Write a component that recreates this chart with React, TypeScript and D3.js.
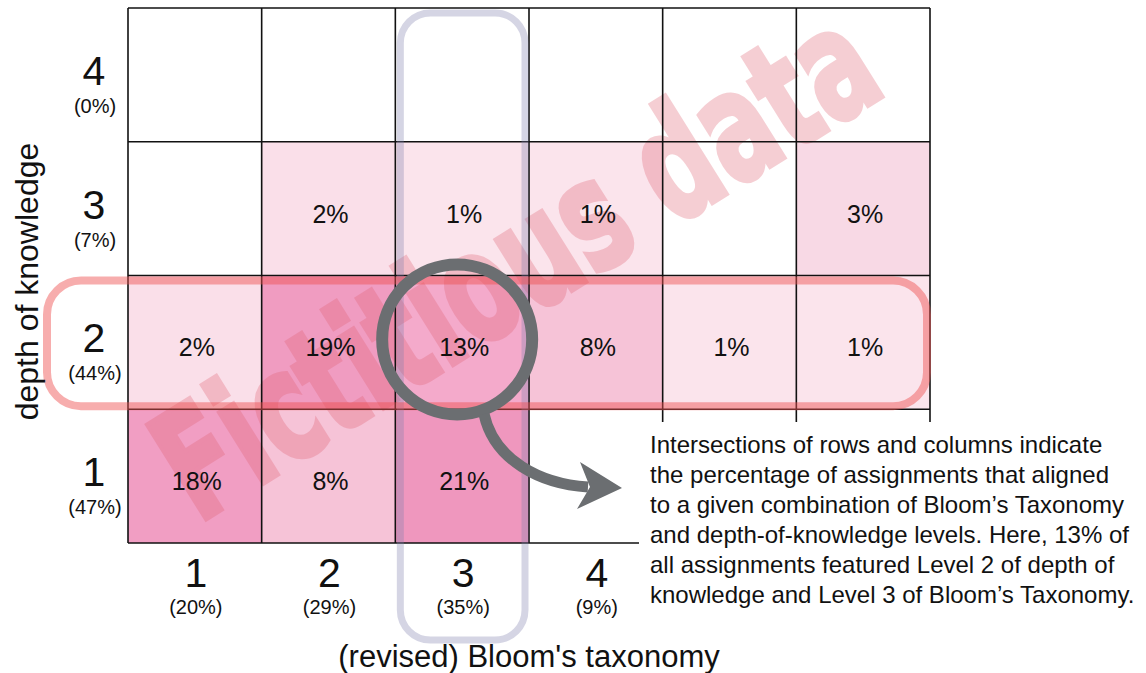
import React from "react";
import * as d3 from "d3";

// ---- data ----
const bloomLevels = ["1", "2", "3", "4", "5", "6"];
const bloomLabelled = ["1", "2", "3", "4"];
const bloomTotals = ["(20%)", "(29%)", "(35%)", "(9%)"];
const dokLevels = ["4", "3", "2", "1"];
const dokTotals = ["(0%)", "(7%)", "(44%)", "(47%)"];
const dok4Values: (number | null)[] = [null, null, null, null, null, null];
const dok3Values: (number | null)[] = [null, 2, 1, 1, null, 3];
const dok2Values: (number | null)[] = [2, 19, 13, 8, 1, 1];
const dok1Values: (number | null)[] = [18, 8, 21, null, null, null];
const highlightDok = "2";
const highlightBloom = "3";
const xTitle = "(revised) Bloom's taxonomy";
const yTitle = "depth of knowledge";
const watermark = "Fictitious data";
const annotationLines = [
  "Intersections of rows and columns indicate",
  "the percentage of assignments that aligned",
  "to a given combination of Bloom\u2019s Taxonomy",
  "and depth-of-knowledge levels. Here, 13% of",
  "all assignments featured Level 2 of depth of",
  "knowledge and Level 3 of Bloom\u2019s Taxonomy.",
];

const W = 1146;
const H = 673;
const FONT = "'Liberation Sans', Arial, Helvetica, sans-serif";

export default function App() {
  const matrix = [dok4Values, dok3Values, dok2Values, dok1Values];
  const x = d3.scaleBand<string>().domain(bloomLevels).range([128, 930]);
  const y = d3.scaleBand<string>().domain(dokLevels).range([8, 543]);
  const color = d3
    .scaleLinear<string>()
    .domain([0, 1, 3, 8, 13, 21])
    .range(["#ffffff", "#fbe4ec", "#f8d9e5", "#f6c3d7", "#f4aacb", "#ef97be"]);

  const bw = x.bandwidth();
  const bh = y.bandwidth();

  const cells: { r: string; c: string; v: number | null }[] = [];
  dokLevels.forEach((r, i) =>
    bloomLevels.forEach((c, j) => cells.push({ r, c, v: matrix[i][j] }))
  );

  const hx = x(highlightBloom)!;
  const hy = y(highlightDok)!;
  const circleCx = hx + bw / 2 - 5;
  const circleCy = hy + bh / 2 - 3;

  return (
    <svg
      width={W}
      height={H}
      style={{ position: "absolute", left: 0, top: 0, background: "#fff" }}
      fontFamily={FONT}
    >
      {/* cells */}
      {cells.map((d) => (
        <rect
          key={`c${d.r}-${d.c}`}
          x={x(d.c)}
          y={y(d.r)}
          width={bw}
          height={bh}
          fill={d.v == null ? "#ffffff" : color(d.v)}
        />
      ))}

      {/* watermark */}
      <g opacity={0.3}>
        <text
          transform="translate(198,524) rotate(-32)"
          fontFamily="'DejaVu Sans Condensed', 'Liberation Sans Narrow', 'Liberation Sans', sans-serif"
          fontWeight="bold"
          fontSize={152}
          textLength={815}
          lengthAdjust="spacingAndGlyphs"
          fill="#e06070"
          stroke="#e06070"
          strokeWidth={5}
          strokeLinejoin="miter"
        >
          {watermark}
        </text>
      </g>

      {/* grid lines */}
      {bloomLevels.concat(["end"]).map((c, i) => {
        const xx = i < bloomLevels.length ? x(c)! : x.range()[1];
        return (
          <line
            key={`v${i}`}
            x1={xx}
            x2={xx}
            y1={y.range()[0]}
            y2={y.range()[1]}
            stroke="#111"
            strokeWidth={1.6}
          />
        );
      })}
      {dokLevels.concat(["end"]).map((r, i) => {
        const yy = i < dokLevels.length ? y(r)! : y.range()[1];
        return (
          <line
            key={`h${i}`}
            x1={x.range()[0]}
            x2={x.range()[1]}
            y1={yy}
            y2={yy}
            stroke="#111"
            strokeWidth={1.6}
          />
        );
      })}

      {/* cell values */}
      {cells
        .filter((d) => d.v != null)
        .map((d) => (
          <text
            key={`t${d.r}-${d.c}`}
            x={x(d.c)! + bw / 2 + 2}
            y={y(d.r)! + bh / 2 + 14}
            textAnchor="middle"
            fontSize={25}
            fill="#111"
          >
            {d.v}%
          </text>
        ))}

      {/* row labels */}
      {dokLevels.map((r, i) => (
        <g key={`rl${r}`}>
          <text
            x={94}
            y={y(r)! + bh / 2 + 10}
            textAnchor="middle"
            fontSize={41}
            fill="#111"
          >
            {r}
          </text>
          <text
            x={95}
            y={y(r)! + bh / 2 + 38}
            textAnchor="middle"
            fontSize={20}
            fill="#111"
          >
            {dokTotals[i]}
          </text>
        </g>
      ))}

      {/* column labels */}
      {bloomLabelled.map((c, i) => (
        <g key={`cl${c}`}>
          <text
            x={x(c)! + bw / 2 + 1}
            y={587}
            textAnchor="middle"
            fontSize={41}
            fill="#111"
          >
            {c}
          </text>
          <text
            x={x(c)! + bw / 2 + 1}
            y={614}
            textAnchor="middle"
            fontSize={20}
            fill="#111"
          >
            {bloomTotals[i]}
          </text>
        </g>
      ))}

      {/* column highlight (lavender) */}
      <rect
        x={hx + 5}
        y={13}
        width={bw - 9}
        height={627}
        rx={30}
        fill="none"
        stroke="#8080ad"
        strokeOpacity={0.33}
        strokeWidth={7}
      />

      {/* row highlight (salmon) */}
      <rect
        x={47}
        y={hy + 5}
        width={880}
        height={bh - 8}
        rx={34}
        fill="none"
        stroke="#ee5050"
        strokeOpacity={0.47}
        strokeWidth={8}
      />

      {/* magnifier */}
      <circle
        cx={circleCx}
        cy={circleCy}
        r={75}
        fill="none"
        stroke="#6b6e71"
        strokeWidth={12}
      />
      <path
        d="M484,414 C494,460 540,484 588,487"
        fill="none"
        stroke="#6b6e71"
        strokeWidth={11}
      />
      <polygon points="622,488 580,462 590,487 577,509" fill="#6b6e71" />

      {/* annotation box */}
      <rect x={639} y={422} width={W - 639} height={198} fill="#ffffff" />
      {annotationLines.map((t, i) => (
        <text key={`a${i}`} x={650} y={453 + i * 30} fontSize={24} fill="#111">
          {t}
        </text>
      ))}

      {/* axis titles */}
      <text x={529} y={667} textAnchor="middle" fontSize={31} fill="#111">
        {xTitle}
      </text>
      <text
        transform={`translate(38,${(y.range()[0] + y.range()[1]) / 2 + 6}) rotate(-90)`}
        textAnchor="middle"
        fontSize={32}
        fill="#111"
      >
        {yTitle}
      </text>
    </svg>
  );
}
